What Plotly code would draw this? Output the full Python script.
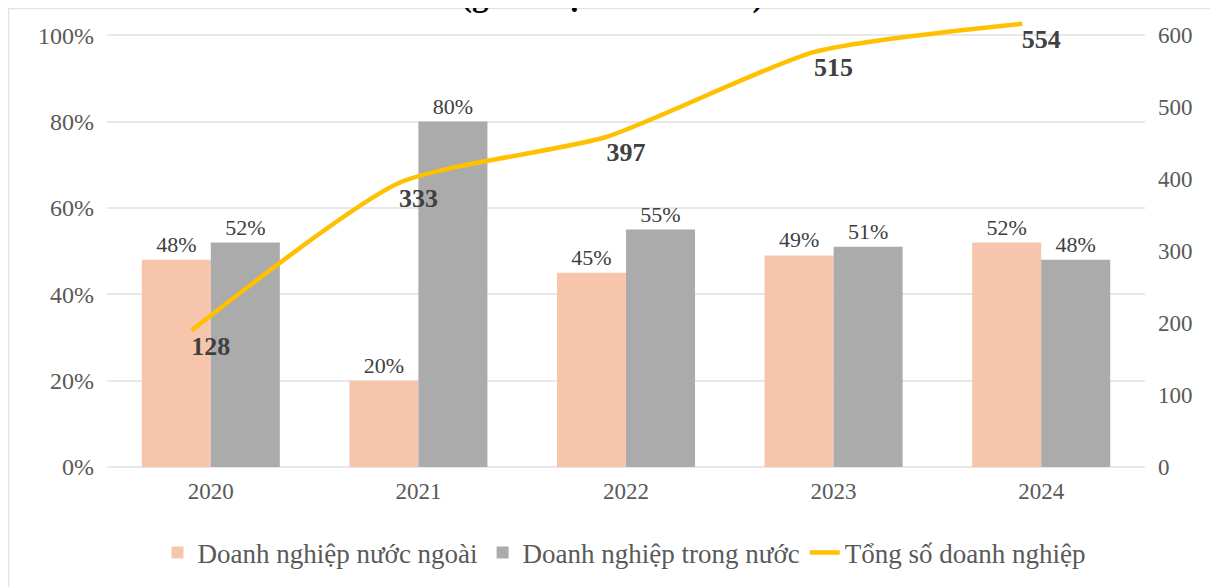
import plotly.graph_objects as go

years = ["2020", "2021", "2022", "2023", "2024"]
foreign_share = [0.48, 0.20, 0.45, 0.49, 0.52]
domestic_share = [0.52, 0.80, 0.55, 0.51, 0.48]
total_firms = [128, 333, 397, 515, 554]

left_ticks = [0, 0.2, 0.4, 0.6, 0.8, 1.0]
left_tick_labels = ["0%", "20%", "40%", "60%", "80%", "100%"]
right_tick_labels = [0, 100, 200, 300, 400, 500, 600]

# style constants (the source chart draws the line offset from the right scale)
LINE_OFFSET = 62
X_SHIFT = 0.0915
TOP = 1.04

FONT = "Liberation Serif"
TICK_COLOR = "#595959"
LABEL_COLOR = "#404040"

# page has an 8px body margin; work in page pixels and convert
OFF = 8
W, H = 1218 - OFF, 587 - OFF
PL, PR, PT, PB = 107, 1145, 18, 467          # plot area in page pixels
L, R, T, B = PL - OFF, W - (PR - OFF), PT - OFF, H - (PB - OFF)
pw, ph = W - L - R, H - T - B

def px_x(px):
    return (px - PL) / pw

def px_y(py):
    return (PB - py) / ph

fig = go.Figure()

fig.add_trace(go.Bar(
    x=years, y=foreign_share, name="Doanh nghiệp nước ngoài",
    marker=dict(color="#F6C5AC", line=dict(width=0)),
    text=[f"{v:.0%}" for v in foreign_share], textposition="outside",
    textfont=dict(family=FONT, size=22, color=LABEL_COLOR),
    cliponaxis=False,
))
fig.add_trace(go.Bar(
    x=years, y=domestic_share, name="Doanh nghiệp trong nước",
    marker=dict(color="#ABABAB", line=dict(width=0)),
    text=[f"{v:.0%}" for v in domestic_share], textposition="outside",
    textfont=dict(family=FONT, size=22, color=LABEL_COLOR),
    cliponaxis=False,
))
fig.add_trace(go.Scatter(
    x=years, y=total_firms, name="Tổng số doanh nghiệp",
    mode="lines", line=dict(color="#FFC000", width=4.5, shape="spline", smoothing=0.6),
    xaxis="x2", yaxis="y2",
))
fig.add_trace(go.Scatter(
    x=years, y=total_firms, mode="markers+text", showlegend=False,
    marker=dict(size=6, color="rgba(0,0,0,0)", line=dict(width=0)),
    text=[str(v) for v in total_firms], textposition="bottom center",
    textfont=dict(family=FONT, size=26, color=LABEL_COLOR, weight="bold"),
    xaxis="x", yaxis="y2", cliponaxis=False, hoverinfo="skip",
))

rmin = -LINE_OFFSET
rmax = rmin + 600 * TOP

fig.update_layout(
    width=W, height=H,
    margin=dict(l=L, r=R, t=T, b=B, autoexpand=False),
    paper_bgcolor="white", plot_bgcolor="white",
    barmode="group", bargap=0.335, bargroupgap=0,
    font=dict(family=FONT, color=TICK_COLOR),
    xaxis=dict(
        type="category", range=[-0.5, 4.5], showgrid=False, showline=False,
        ticks="", tickfont=dict(size=23, color=TICK_COLOR), ticklabelstandoff=8,
        automargin=False,
    ),
    xaxis2=dict(
        type="category", overlaying="x", range=[-0.5 + X_SHIFT, 4.5 + X_SHIFT],
        visible=False, automargin=False,
    ),
    yaxis=dict(
        range=[0, TOP], tickvals=left_ticks, ticktext=left_tick_labels,
        showgrid=True, gridcolor="#E8E8E8", gridwidth=1.5,
        zeroline=True, zerolinecolor="#E8E8E8", zerolinewidth=1.5,
        showline=False, ticks="", tickfont=dict(size=24, color=TICK_COLOR),
        ticklabelstandoff=12, automargin=False,
    ),
    yaxis2=dict(
        overlaying="y", side="right", range=[rmin, rmax],
        tickvals=[v + rmin for v in right_tick_labels],
        ticktext=[str(v) for v in right_tick_labels],
        showgrid=False, zeroline=False, showline=False, ticks="",
        tickfont=dict(size=23, color=TICK_COLOR), ticklabelstandoff=12,
        automargin=False,
    ),
    legend=dict(
        orientation="h", x=(624 - OFF) / W, xanchor="center", xref="container",
        y=1 - (553 - OFF) / H, yanchor="middle", yref="container",
        font=dict(family=FONT, size=27, color=TICK_COLOR),
        itemwidth=30, traceorder="normal",
    ),
    showlegend=True,
    shapes=[dict(
        type="rect", xref="paper", yref="paper",
        x0=px_x(OFF + 0.5), x1=px_x(1216), y0=px_y(600), y1=px_y(OFF + 0.5),
        line=dict(color="#E3E3E3", width=1.5), fillcolor="rgba(0,0,0,0)", layer="below",
    )],
    annotations=[dict(
        text="<b>(giai đoạn 2020-2024)</b>", xref="paper", yref="paper",
        x=px_x(612), y=px_y(-4), xanchor="center", yanchor="middle",
        showarrow=False, font=dict(family=FONT, size=33, color="black"),
    )],
)

fig.write_html("out.html")
